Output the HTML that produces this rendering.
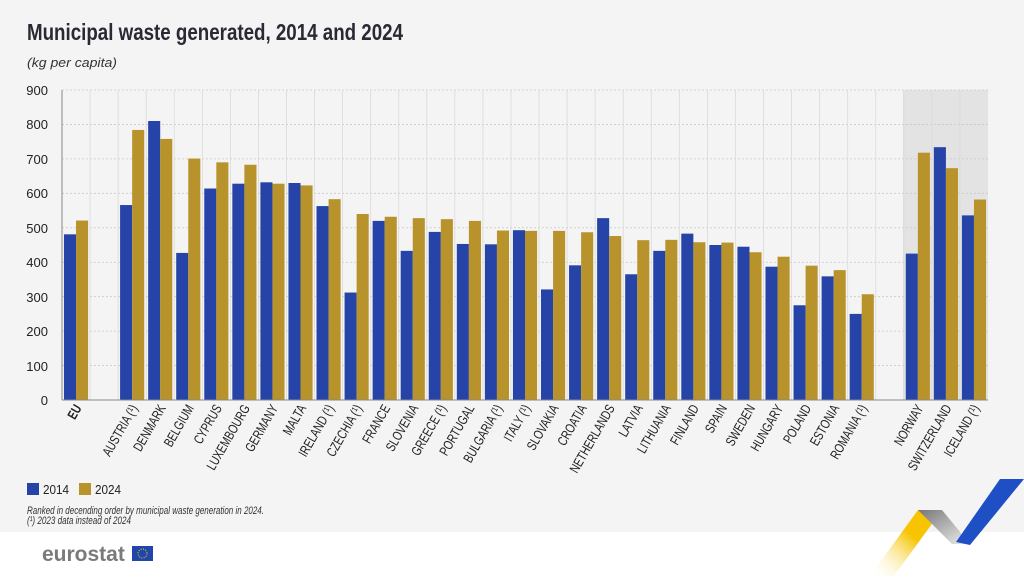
<!DOCTYPE html>
<html><head><meta charset="utf-8"><style>
body{margin:0;width:1024px;height:576px;overflow:hidden;background:#fff;font-family:"Liberation Sans",sans-serif}
</style></head><body>
<svg width="1024" height="576" xmlns="http://www.w3.org/2000/svg" font-family="Liberation Sans, sans-serif">
<rect x="0" y="0" width="1024" height="532" fill="#f4f4f4"/>
<text x="27" y="40" font-size="23" font-weight="bold" fill="#2a2a35" textLength="376" lengthAdjust="spacingAndGlyphs">Municipal waste generated, 2014 and 2024</text>
<text x="27" y="67" font-size="13" font-style="italic" fill="#333" textLength="90" lengthAdjust="spacingAndGlyphs">(kg per capita)</text>
<rect x="903" y="90" width="85" height="310" fill="#e3e3e3"/>
<g id="plot"></g>
<g font-size="13" fill="#222" text-anchor="end">
<text x="48" y="95">900</text><text x="48" y="129">800</text><text x="48" y="164">700</text><text x="48" y="198">600</text><text x="48" y="233">500</text><text x="48" y="267">400</text><text x="48" y="302">300</text><text x="48" y="336">200</text><text x="48" y="371">100</text><text x="48" y="405">0</text>
</g>
<rect x="27" y="483" width="12" height="12" fill="#2644a8"/><text x="43" y="494" font-size="13" fill="#222" textLength="26" lengthAdjust="spacingAndGlyphs">2014</text>
<rect x="79" y="483" width="12" height="12" fill="#b8922a"/><text x="95" y="494" font-size="13" fill="#222" textLength="26" lengthAdjust="spacingAndGlyphs">2024</text>
<text x="27" y="514" font-size="11" font-style="italic" fill="#333" textLength="237" lengthAdjust="spacingAndGlyphs">Ranked in decending order by municipal waste generation in 2024.</text>
<text x="27" y="524" font-size="11" font-style="italic" fill="#333" textLength="104" lengthAdjust="spacingAndGlyphs">(¹) 2023 data instead of 2024</text>
<text x="42" y="561" font-size="21" font-weight="bold" fill="#7a7a7a">eurostat</text>
<rect x="132" y="546" width="21" height="15" fill="#1f46a8"/>
<circle cx="142.5" cy="553.5" r="4.5" fill="none" stroke="#f3cf2a" stroke-width="1" stroke-dasharray="1 1.4"/>
<defs><linearGradient id="gy" x1="0" y1="1" x2="1" y2="0"><stop offset="0" stop-color="#fff" stop-opacity="0"/><stop offset="0.6" stop-color="#f6c400"/></linearGradient>
<linearGradient id="gg" x1="0" y1="0" x2="1" y2="1"><stop offset="0" stop-color="#777"/><stop offset="1" stop-color="#eee"/></linearGradient></defs>
<polygon points="870,576 918,510 942,510 894,576" fill="url(#gy)"/>
<polygon points="918,510 942,510 970,544 952,544" fill="url(#gg)"/>
<polygon points="956,542 1000,479 1024,479 970,545" fill="#1f4fc4"/>
</svg>
<script>
var d=[["EU",481,521,1],null,["AUSTRIA (¹)",566,784],["DENMARK",810,758],["BELGIUM",427,701],["CYPRUS",614,690],["LUXEMBOURG",628,683],["GERMANY",632,628],["MALTA",630,623],["IRELAND (¹)",563,583],["CZECHIA (¹)",312,540],["FRANCE",520,532],["SLOVENIA",433,528],["GREECE (¹)",488,525],["PORTUGAL",453,520],["BULGARIA (¹)",452,492],["ITALY (¹)",493,491],["SLOVAKIA",321,491],["CROATIA",391,487],["NETHERLANDS",528,476],["LATVIA",365,464],["LITHUANIA",433,465],["FINLAND",483,458],["SPAIN",450,457],["SWEDEN",445,429],["HUNGARY",387,416],["POLAND",275,390],["ESTONIA",359,377],["ROMANIA (¹)",250,307],null,["NORWAY",425,718],["SWITZERLAND",734,673],["ICELAND (¹)",536,582]];
var g=document.getElementById("plot"),h="";
var N=d.length,x0=62,w=926/N,k=310/900;
for(var v=0;v<=900;v+=100){var y=400-v*k;h+='<line x1="62" x2="988" y1="'+y+'" y2="'+y+'" stroke="#c8c8c8" stroke-dasharray="2 2" stroke-width="0.8"/>';}
for(var i=1;i<N;i++){var x=x0+i*w;h+='<line x1="'+x+'" x2="'+x+'" y1="90" y2="400" stroke="#dadada" stroke-width="0.8"/>';}
var bw=w*0.43;
d.forEach(function(c,i){if(!c)return;var s=x0+i*w+w*0.07;
h+='<rect x="'+s+'" y="'+(400-c[1]*k)+'" width="'+bw+'" height="'+c[1]*k+'" fill="#2644a8"/>';
h+='<rect x="'+(s+bw)+'" y="'+(400-c[2]*k)+'" width="'+bw+'" height="'+c[2]*k+'" fill="#b8922a"/>';
var tx=x0+i*w+w/2+6,ty=408;
h+='<text font-size="13.5" fill="#222" text-anchor="end" '+(c[3]?'font-weight="bold" ':'')+'transform="translate('+tx+' '+ty+') rotate(-60) scale(0.76 1)">'+c[0]+'</text>';});
h+='<line x1="62" x2="62" y1="90" y2="400" stroke="#888"/><line x1="62" x2="988" y1="400" y2="400" stroke="#888"/>';
g.innerHTML=h;
</script>
</body></html>
